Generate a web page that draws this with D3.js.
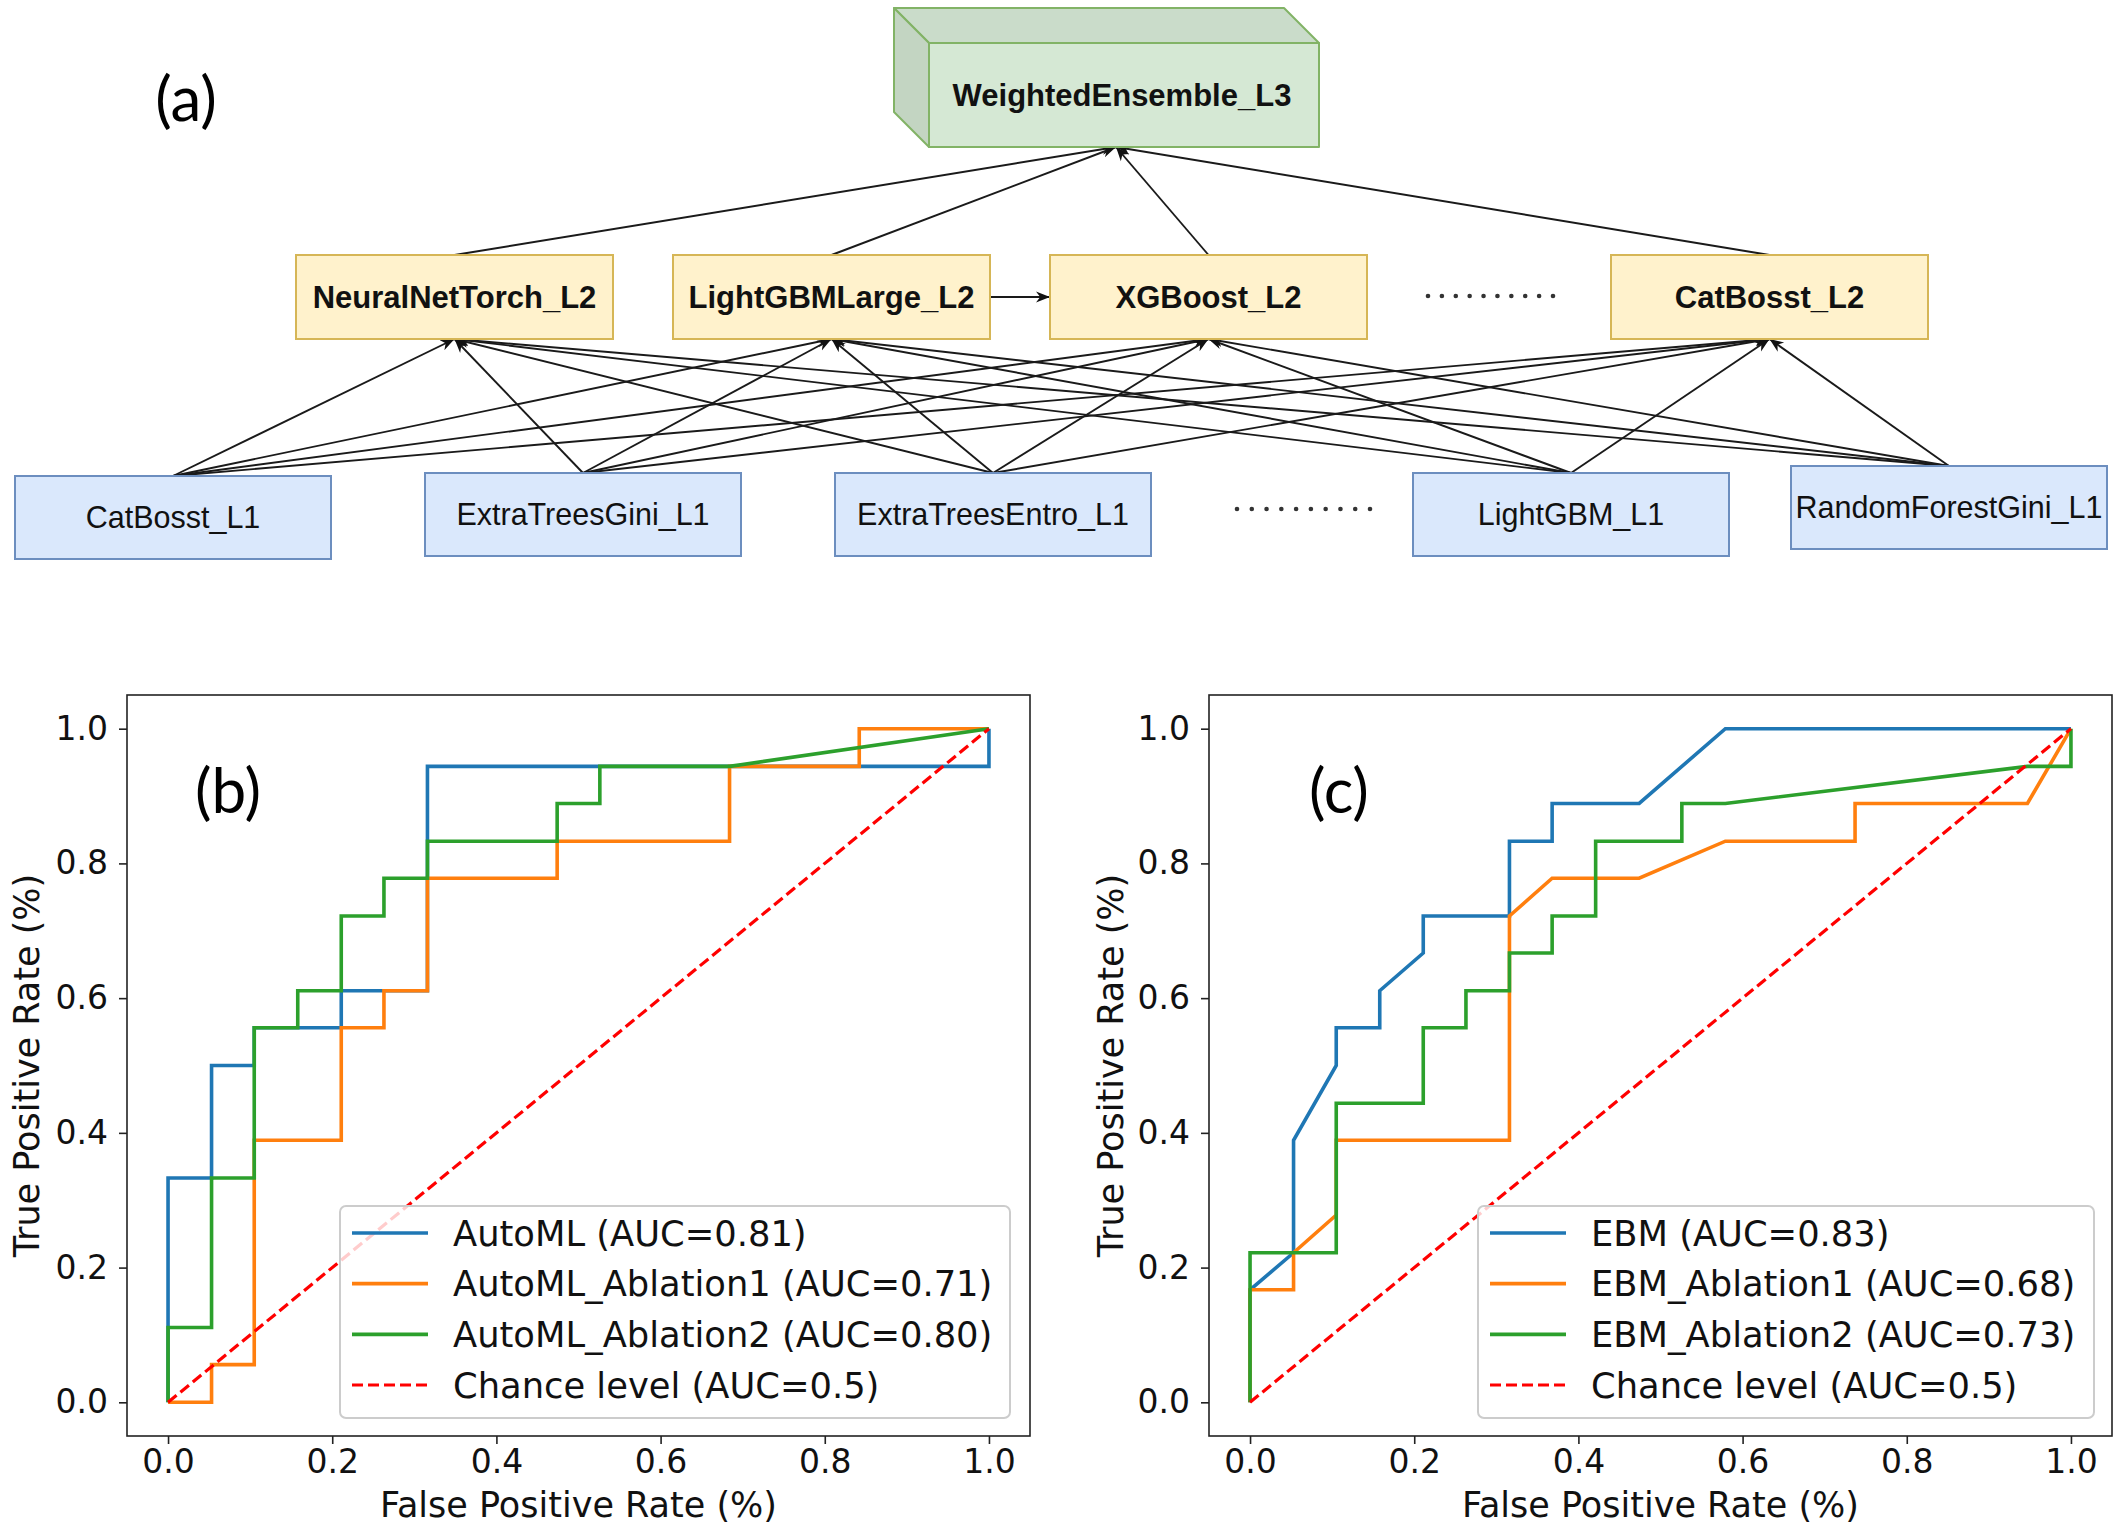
<!DOCTYPE html>
<html>
<head>
<meta charset="utf-8">
<script src="https://cdn.jsdelivr.net/npm/d3@7"></script>
<style>
  body { margin: 0; background: #fff; }
  svg { display: block; }
</style>
</head>
<body>
<svg id="fig" width="2120" height="1530"></svg>
<script>
// ------ DATA ------

// stacking diagram, panel (a)
const L1_NODES = ["CatBosst_L1", "ExtraTreesGini_L1", "ExtraTreesEntro_L1", "LightGBM_L1", "RandomForestGini_L1"];
const L2_NODES = ["NeuralNetTorch_L2", "LightGBMLarge_L2", "XGBoost_L2", "CatBosst_L2"];
const L3_NODE = "WeightedEnsemble_L3";

const AXIS_TICKS = [0.0, 0.2, 0.4, 0.6, 0.8, 1.0];
const CHANCE_FPR = [0, 1];
const CHANCE_TPR = [0, 1];

// panel (b) ROC curves
const automl_fpr = [0, 0, 0.053, 0.053, 0.105, 0.105, 0.211, 0.211, 0.316, 0.316, 1, 1];
const automl_tpr = [0, 0.333, 0.333, 0.5, 0.5, 0.556, 0.556, 0.611, 0.611, 0.944, 0.944, 1];
const automlAbl1_fpr = [0, 0.053, 0.053, 0.105, 0.105, 0.211, 0.211, 0.263, 0.263, 0.316, 0.316, 0.474, 0.474, 0.684, 0.684, 0.842, 0.842, 1];
const automlAbl1_tpr = [0, 0, 0.056, 0.056, 0.389, 0.389, 0.556, 0.556, 0.611, 0.611, 0.778, 0.778, 0.833, 0.833, 0.944, 0.944, 1, 1];
const automlAbl2_fpr = [0, 0, 0.053, 0.053, 0.105, 0.105, 0.158, 0.158, 0.211, 0.211, 0.263, 0.263, 0.316, 0.316, 0.474, 0.474, 0.526, 0.526, 0.684, 1];
const automlAbl2_tpr = [0, 0.111, 0.111, 0.333, 0.333, 0.556, 0.556, 0.611, 0.611, 0.722, 0.722, 0.778, 0.778, 0.833, 0.833, 0.889, 0.889, 0.944, 0.944, 1];
const B_LABELS = ["AutoML (AUC=0.81)", "AutoML_Ablation1 (AUC=0.71)", "AutoML_Ablation2 (AUC=0.80)", "Chance level (AUC=0.5)"];

// panel (c) ROC curves
const ebm_fpr = [0, 0, 0.053, 0.053, 0.105, 0.105, 0.158, 0.158, 0.211, 0.211, 0.316, 0.316, 0.368, 0.368, 0.474, 0.579, 1];
const ebm_tpr = [0, 0.167, 0.222, 0.389, 0.5, 0.556, 0.556, 0.611, 0.667, 0.722, 0.722, 0.833, 0.833, 0.889, 0.889, 1, 1];
const ebmAbl1_fpr = [0, 0, 0.053, 0.053, 0.105, 0.105, 0.316, 0.316, 0.368, 0.474, 0.579, 0.737, 0.737, 0.947, 1];
const ebmAbl1_tpr = [0, 0.167, 0.167, 0.222, 0.278, 0.389, 0.389, 0.722, 0.778, 0.778, 0.833, 0.833, 0.889, 0.889, 1];
const ebmAbl2_fpr = [0, 0, 0.105, 0.105, 0.211, 0.211, 0.263, 0.263, 0.316, 0.316, 0.368, 0.368, 0.421, 0.421, 0.526, 0.526, 0.579, 0.947, 1, 1];
const ebmAbl2_tpr = [0, 0.222, 0.222, 0.444, 0.444, 0.556, 0.556, 0.611, 0.611, 0.667, 0.667, 0.722, 0.722, 0.833, 0.833, 0.889, 0.889, 0.944, 0.944, 1];
const C_LABELS = ["EBM (AUC=0.83)", "EBM_Ablation1 (AUC=0.68)", "EBM_Ablation2 (AUC=0.73)", "Chance level (AUC=0.5)"];

const PANEL_TAGS = ["(a)", "(b)", "(c)"];

// ------ STYLE / LAYOUT ------

const COLORS = ["#1f77b4", "#ff7f0e", "#2ca02c", "#ff0000"];
const MPL_FONT = "'DejaVu Sans', sans-serif";
const DIA_FONT = "'Liberation Sans', Arial, sans-serif";
const TAG_FONT = "Lato, 'Open Sans', sans-serif";

const DG = {
  l1: { x: [15, 425, 835, 1413, 1791], y: [476, 473, 473, 473, 466], w: 316, h: 83 },
  l2: { x: [296, 673, 1050, 1611], y: 255, w: 317, h: 84 },
  l3: { x: 929, y: 43, w: 390, h: 104, d: 35, tipX: 1116 },
};

const svg = d3.select("#fig");

const defs = svg.append("defs");
defs.append("marker")
    .attr("id", "arr")
    .attr("viewBox", "0 0 10 10")
    .attr("refX", 10).attr("refY", 5)
    .attr("markerWidth", 14).attr("markerHeight", 14)
    .attr("markerUnits", "userSpaceOnUse")
    .attr("orient", "auto")
  .append("path")
    .attr("d", "M0,1 L10,5 L0,9 L3,5 Z")
    .attr("fill", "#111");

// ****************************************
// ------ PANEL (a): ensemble diagram ------

function drawDiagram() {
  const g = svg.append("g");

  const l1Top = L1_NODES.map((d, i) => ({ x: DG.l1.x[i] + DG.l1.w / 2, y: DG.l1.y[i] }));
  const l2Bot = L2_NODES.map((d, i) => ({ x: DG.l2.x[i] + DG.l2.w / 2, y: DG.l2.y + DG.l2.h }));
  const l2Top = L2_NODES.map((d, i) => ({ x: DG.l2.x[i] + DG.l2.w / 2, y: DG.l2.y }));
  const l3Bot = { x: DG.l3.tipX, y: DG.l3.y + DG.l3.h };

  // every L1 model feeds every L2 model
  const edges = [];
  l1Top.forEach(s => l2Bot.forEach(t => edges.push([s, t])));
  l2Top.forEach(s => edges.push([s, l3Bot]));
  // LightGBMLarge_L2 -> XGBoost_L2
  edges.push([{ x: DG.l2.x[1] + DG.l2.w, y: DG.l2.y + DG.l2.h / 2 }, { x: DG.l2.x[2], y: DG.l2.y + DG.l2.h / 2 }]);

  g.selectAll(".edge")
    .data(edges)
    .join("line")
      .attr("x1", d => d[0].x).attr("y1", d => d[0].y)
      .attr("x2", d => d[1].x).attr("y2", d => d[1].y)
      .attr("stroke", "#1a1a1a")
      .attr("stroke-width", 1.9)
      .attr("marker-end", "url(#arr)");

  // L1 boxes
  const b1 = g.selectAll(".l1").data(L1_NODES).join("g");
  b1.append("rect")
      .attr("x", (d, i) => DG.l1.x[i]).attr("y", (d, i) => DG.l1.y[i])
      .attr("width", DG.l1.w).attr("height", DG.l1.h)
      .attr("fill", "#dae8fc").attr("stroke", "#6c8ebf").attr("stroke-width", 2);
  b1.append("text")
      .attr("x", (d, i) => DG.l1.x[i] + DG.l1.w / 2)
      .attr("y", (d, i) => DG.l1.y[i] + DG.l1.h / 2)
      .attr("dy", "0.36em")
      .attr("text-anchor", "middle")
      .style("font-family", DIA_FONT).style("font-size", "30.5px").attr("fill", "#111")
      .text(d => d);

  // L2 boxes
  const b2 = g.selectAll(".l2").data(L2_NODES).join("g");
  b2.append("rect")
      .attr("x", (d, i) => DG.l2.x[i]).attr("y", DG.l2.y)
      .attr("width", DG.l2.w).attr("height", DG.l2.h)
      .attr("fill", "#fff2cc").attr("stroke", "#d6b656").attr("stroke-width", 2);
  b2.append("text")
      .attr("x", (d, i) => DG.l2.x[i] + DG.l2.w / 2)
      .attr("y", DG.l2.y + DG.l2.h / 2)
      .attr("dy", "0.36em")
      .attr("text-anchor", "middle")
      .style("font-family", DIA_FONT).style("font-size", "31px").style("font-weight", "bold").attr("fill", "#111")
      .text(d => d);

  // L3 cube
  const c = DG.l3;
  const cube = g.append("g").attr("stroke", "#82b366").attr("stroke-width", 2).attr("stroke-linejoin", "round");
  cube.append("polygon")
      .attr("points", [[c.x - c.d, c.y - c.d], [c.x + c.w - c.d, c.y - c.d], [c.x + c.w, c.y], [c.x, c.y]].join(" "))
      .attr("fill", "#cadccA");
  cube.append("polygon")
      .attr("points", [[c.x - c.d, c.y - c.d], [c.x, c.y], [c.x, c.y + c.h], [c.x - c.d, c.y + c.h - c.d]].join(" "))
      .attr("fill", "#c3d5c2");
  cube.append("rect")
      .attr("x", c.x).attr("y", c.y).attr("width", c.w).attr("height", c.h)
      .attr("fill", "#d5e8d4");
  g.append("text")
      .attr("x", c.x + c.w / 2 - 2).attr("y", c.y + c.h / 2)
      .attr("dy", "0.36em")
      .attr("text-anchor", "middle")
      .style("font-family", DIA_FONT).style("font-size", "31px").style("font-weight", "bold").attr("fill", "#111")
      .text(L3_NODE);

  // "......" ellipsis rows
  const dotRows = [[1428, 1553, 296], [1237, 1370, 509]];
  dotRows.forEach(r => {
    const sx = d3.scaleLinear().domain([0, 9]).range([r[0], r[1]]);
    g.selectAll(null).data(d3.range(10)).join("circle")
        .attr("cx", d => sx(d)).attr("cy", r[2]).attr("r", 2.3).attr("fill", "#333");
  });

  svg.append("text")
      .attr("x", 186).attr("y", 99).attr("dy", "0.35em")
      .attr("text-anchor", "middle")
      .style("font-family", TAG_FONT).style("font-size", "62px").attr("fill", "#000")
      .text(PANEL_TAGS[0]);
}

// ****************************************
// ------ PANELS (b), (c): ROC curves ------

function drawRoc(opts) {
  const left = opts.left, top = 695, w = 903, h = 741;
  const x = d3.scaleLinear().domain([-0.05, 1.05]).range([left, left + w]);
  const y = d3.scaleLinear().domain([-0.05, 1.05]).range([top + h, top]);
  const g = svg.append("g");

  const clipId = "clip" + opts.id;
  defs.append("clipPath").attr("id", clipId)
    .append("rect").attr("x", left).attr("y", top).attr("width", w).attr("height", h);

  // axes
  const xAxis = g.append("g")
      .attr("transform", `translate(0,${top + h})`)
      .call(d3.axisBottom(x).tickValues(AXIS_TICKS).tickFormat(d3.format(".1f")).tickSize(8).tickPadding(6));
  const yAxis = g.append("g")
      .attr("transform", `translate(${left},0)`)
      .call(d3.axisLeft(y).tickValues(AXIS_TICKS).tickFormat(d3.format(".1f")).tickSize(8).tickPadding(11));
  [xAxis, yAxis].forEach(a => {
    a.select(".domain").remove();
    a.selectAll("line").attr("stroke", "#222").attr("stroke-width", 1.6);
    a.selectAll("text").style("font-family", MPL_FONT).style("font-size", "33px").attr("fill", "#111");
  });

  // curves
  const line = d3.line().x(d => x(d[0])).y(d => y(d[1]));
  const lines = g.append("g").attr("clip-path", `url(#${clipId})`);
  opts.series.forEach((s, i) => {
    lines.append("path")
        .datum(d3.zip(s[0], s[1]))
        .attr("d", line)
        .attr("fill", "none")
        .attr("stroke", COLORS[i])
        .attr("stroke-width", 3.6)
        .attr("stroke-linejoin", "miter");
  });
  lines.append("path")
      .datum(d3.zip(CHANCE_FPR, CHANCE_TPR))
      .attr("d", line)
      .attr("fill", "none")
      .attr("stroke", COLORS[3])
      .attr("stroke-width", 3.2)
      .attr("stroke-dasharray", "11,5");

  // frame
  g.append("rect")
      .attr("x", left).attr("y", top).attr("width", w).attr("height", h)
      .attr("fill", "none").attr("stroke", "#222").attr("stroke-width", 1.6);

  // axis labels
  g.append("text")
      .attr("x", left + w / 2).attr("y", 1504).attr("dy", "0.36em")
      .attr("text-anchor", "middle")
      .style("font-family", MPL_FONT).style("font-size", "35px").attr("fill", "#111")
      .text("False Positive Rate (%)");
  g.append("text")
      .attr("transform", `translate(${opts.ylabelX},${top + h / 2}) rotate(-90)`)
      .attr("dy", "0.36em")
      .attr("text-anchor", "middle")
      .style("font-family", MPL_FONT).style("font-size", "35px").attr("fill", "#111")
      .text("True Positive Rate (%)");

  // legend
  const lg = g.append("g");
  lg.append("rect")
      .attr("x", opts.legend.x).attr("y", 1206)
      .attr("width", opts.legend.w).attr("height", 212)
      .attr("rx", 6)
      .attr("fill", "#fff").attr("fill-opacity", 0.8)
      .attr("stroke", "#cccccc").attr("stroke-width", 2);
  const rowY = d3.scaleLinear().domain([0, 3]).range([1233, 1385]);
  opts.labels.forEach((lab, i) => {
    lg.append("line")
        .attr("x1", opts.legend.x + 12).attr("x2", opts.legend.x + 88)
        .attr("y1", rowY(i)).attr("y2", rowY(i))
        .attr("stroke", COLORS[i])
        .attr("stroke-width", i === 3 ? 3.2 : 3.6)
        .attr("stroke-dasharray", i === 3 ? "11,5" : null);
    lg.append("text")
        .attr("x", opts.legend.x + 113).attr("y", rowY(i)).attr("dy", "0.36em")
        .style("font-family", MPL_FONT).style("font-size", "35.3px").attr("fill", "#111")
        .text(lab);
  });

  // panel tag
  svg.append("text")
      .attr("x", opts.tag.x).attr("y", 791).attr("dy", "0.35em")
      .attr("text-anchor", "middle")
      .style("font-family", TAG_FONT).style("font-size", "62px").attr("fill", "#000")
      .text(opts.tag.text);
}

drawDiagram();

drawRoc({
  id: "b", left: 127, ylabelX: 26,
  series: [[automl_fpr, automl_tpr], [automlAbl1_fpr, automlAbl1_tpr], [automlAbl2_fpr, automlAbl2_tpr]],
  labels: B_LABELS,
  legend: { x: 340, w: 670 },
  tag: { x: 228, text: PANEL_TAGS[1] },
});

drawRoc({
  id: "c", left: 1209, ylabelX: 1110,
  series: [[ebm_fpr, ebm_tpr], [ebmAbl1_fpr, ebmAbl1_tpr], [ebmAbl2_fpr, ebmAbl2_tpr]],
  labels: C_LABELS,
  legend: { x: 1478, w: 616 },
  tag: { x: 1339, text: PANEL_TAGS[2] },
});
</script>
</body>
</html>
